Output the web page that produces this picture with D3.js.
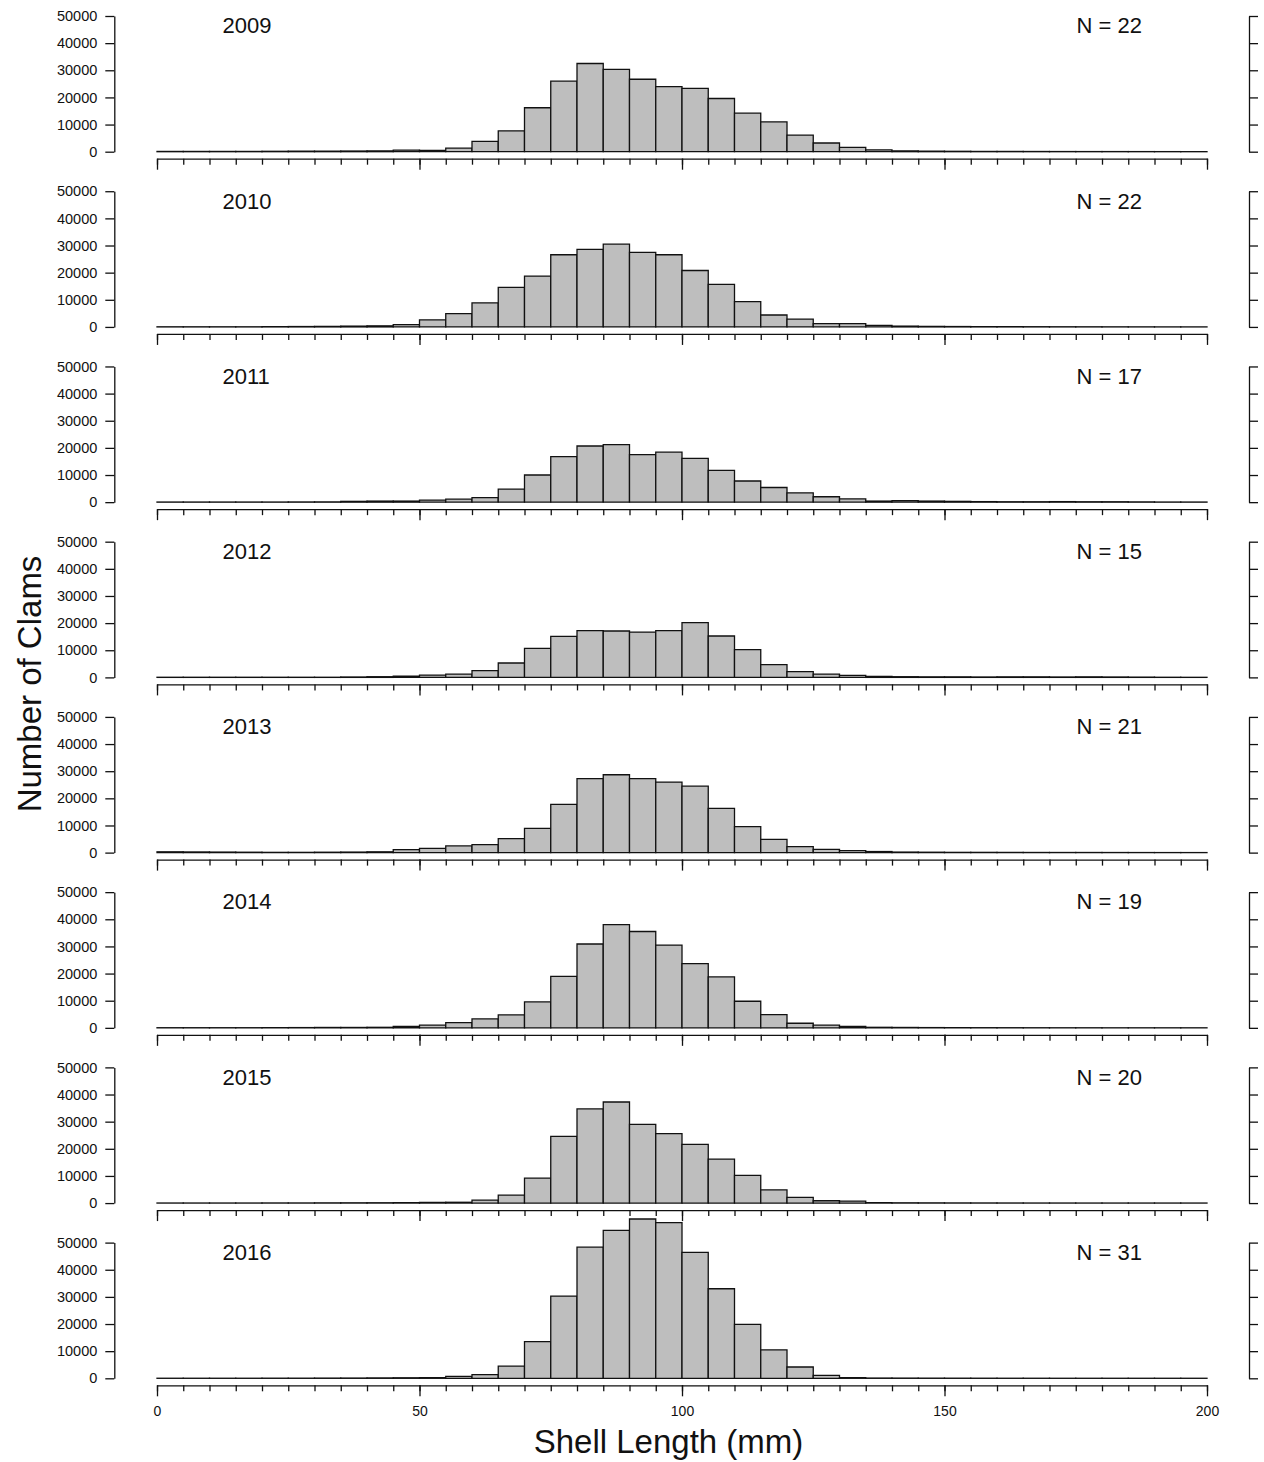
<!DOCTYPE html>
<html>
<head>
<meta charset="utf-8">
<script src="https://cdn.jsdelivr.net/npm/d3@7"></script>
<style>
  html, body { margin: 0; padding: 0; background: #fff; }
  svg { display: block; font-family: "Liberation Sans", Arial, sans-serif; }
</style>
</head>
<body>
<svg id="chart" width="1264" height="1462"></svg>
<script>
// ---- DATA ----
// bins of 5 mm shell length, 0-5 ... 195-200
const binEdges = d3.range(0, 205, 5);
const years = ["2009", "2010", "2011", "2012", "2013", "2014", "2015", "2016"];
const sampleN = [22, 22, 17, 15, 21, 19, 20, 31];
const yTicks = [0, 10000, 20000, 30000, 40000, 50000];
const xLabelTicks = [0, 50, 100, 150, 200];

const counts2009 = [100,100,100,100,150,200,200,250,300,600, 500,1300,3800,7700,16200,26000,32500,30300,26700,24000, 23300,19600,14200,11000,6100,3200,1600,700,300,200, 150,100,100,80,60,50,50,40,30,20];
const counts2010 = [50,50,50,50,100,150,200,300,400,850, 2600,4900,8900,14600,18750,26600,28600,30500,27500,26600, 20800,15700,9300,4400,2900,1200,1200,600,300,200, 150,100,100,80,60,50,40,30,20,20];
const counts2011 = [50,50,50,50,50,80,100,300,400,400, 740,1100,1700,4800,10000,16800,20700,21200,17500,18400, 16150,11700,7800,5400,3450,2000,1200,400,600,400, 300,200,150,150,200,150,150,100,50,50];
const counts2012 = [50,50,50,50,50,50,50,150,250,500, 860,1230,2460,5300,10700,15100,17200,17100,16700,17200, 20200,15250,10200,4700,2100,1230,740,370,250,200, 200,150,200,200,150,200,150,100,50,30];
const counts2013 = [300,250,200,150,100,100,150,200,300,1100, 1600,2450,2950,5150,8950,17800,27300,28700,27300,26000, 24500,16300,9560,4900,2200,1200,700,400,200,150, 100,100,80,60,50,50,40,30,20,20];
const counts2014 = [50,50,50,50,80,100,150,150,200,500, 1000,1960,3300,4800,9560,19000,30900,38000,35500,30500, 23650,18750,9800,4900,1700,1000,500,200,150,100, 80,60,50,40,30,30,20,20,20,20];
const counts2015 = [30,30,30,30,50,50,80,100,120,150, 250,300,1100,2940,9200,24600,34700,37250,29000,25600, 21600,16200,10200,4900,2100,860,740,150,100,80, 60,50,40,30,30,20,20,20,20,20];
const counts2016 = [30,30,30,30,50,50,80,100,150,200, 250,700,1350,4500,13500,30300,48300,54500,58700,57400, 46400,33000,19850,10500,4170,1100,250,100,80,60, 50,40,30,30,20,20,20,20,20,20];

const allCounts = [counts2009, counts2010, counts2011, counts2012, counts2013, counts2014, counts2015, counts2016];

// ---- LAYOUT ----
const svg = d3.select("#chart");
const firstBase = 151.7, panelStep = 175.23, panelH = 135.7;
const x = d3.scaleLinear().domain([0, 200]).range([157, 1207]);
const leftAxisX = 114.3, rightAxisX = 1249;
const ink = "#111";

years.forEach((yr, i) => {
  const base = firstBase + i * panelStep;
  const y = d3.scaleLinear().domain([0, 50000]).range([base, base - panelH]);
  const g = svg.append("g");
  const counts = allCounts[i];

  // bars (paths so zero-height bins still draw a line)
  g.selectAll("path.bar")
    .data(counts.map((c, k) => ({ x0: binEdges[k], x1: binEdges[k + 1], c })))
    .enter().append("path")
    .attr("class", "bar")
    .attr("d", d => `M${x(d.x0)},${y(0)}V${y(d.c)}H${x(d.x1)}V${y(0)}Z`)
    .attr("fill", "#bebebe")
    .attr("stroke", ink)
    .attr("stroke-width", 1.3)
    .attr("stroke-linejoin", "miter");

  // left axis
  const la = g.append("g")
    .attr("transform", `translate(${leftAxisX},0)`)
    .call(d3.axisLeft(y).tickValues(yTicks).tickSize(9).tickSizeOuter(0).tickPadding(8).tickFormat(d3.format("d")));
  la.selectAll("text").attr("font-size", 14.5).attr("fill", ink).attr("font-family", "Liberation Sans, Arial, sans-serif");

  // right axis
  const ra = g.append("g")
    .attr("transform", `translate(${rightAxisX},0)`)
    .call(d3.axisRight(y).tickValues(yTicks).tickSize(9).tickSizeOuter(0).tickFormat(""));

  // bottom axis: minor ticks every 5 mm, major every 50 mm
  const axY = base + 7;
  const ba = g.append("g")
    .attr("transform", `translate(0,${axY})`)
    .call(d3.axisBottom(x).tickValues(binEdges).tickSize(6).tickSizeOuter(0).tickFormat(""));
  const bm = g.append("g")
    .attr("transform", `translate(0,${axY})`)
    .call(d3.axisBottom(x).tickValues(xLabelTicks).tickSize(11).tickSizeOuter(0).tickPadding(10)
      .tickFormat(i === years.length - 1 ? d3.format("d") : ""));
  bm.select(".domain").remove();
  bm.selectAll("text").attr("font-size", 14).attr("fill", ink).attr("font-family", "Liberation Sans, Arial, sans-serif");

  [la, ra, ba, bm].forEach(a => {
    a.selectAll("path.domain").attr("stroke", ink).attr("stroke-width", 1.3);
    a.selectAll(".tick line").attr("stroke", ink).attr("stroke-width", 1.3);
  });

  // labels
  g.append("text").attr("x", 222.5).attr("y", base - 118.4)
    .attr("font-size", 22).attr("fill", ink).text(yr);
  g.append("text").attr("x", 1142).attr("y", base - 118.4)
    .attr("text-anchor", "end").attr("font-size", 22).attr("fill", ink).text("N = " + sampleN[i]);
});

// axis titles
svg.append("text")
  .attr("x", 668.5).attr("y", 1453)
  .attr("text-anchor", "middle").attr("font-size", 33).attr("fill", ink)
  .text("Shell Length (mm)");
svg.append("text")
  .attr("transform", "translate(41,684) rotate(-90)")
  .attr("text-anchor", "middle").attr("font-size", 33).attr("fill", ink)
  .text("Number of Clams");
</script>
</body>
</html>
